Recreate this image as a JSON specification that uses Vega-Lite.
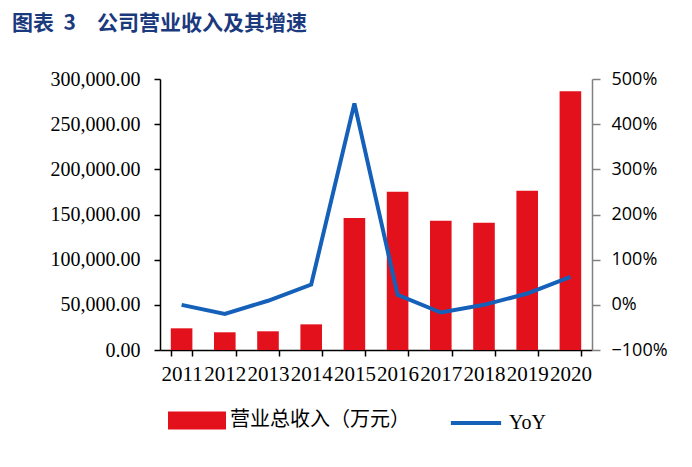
{
  "$schema": "https://vega.github.io/schema/vega-lite/v6.json",
  "width": 432,
  "height": 271,
  "autosize": {"type": "none"},
  "padding": {"left": 160, "top": 79, "right": 100, "bottom": 117},
  "background": "white",
  "title": {
    "text": "图表\u00a0\u00a03\u3000公司营业收入及其增速",
    "anchor": "start",
    "frame": "group",
    "dx": -148,
    "offset": 35,
    "font": "Noto Sans CJK SC",
    "fontSize": 21,
    "fontWeight": "bold",
    "color": "#1B3A7E"
  },
  "data": {
    "values": [
      {"year": "2011", "revenue": 24000, "yoy": 0.0},
      {"year": "2012", "revenue": 19600, "yoy": -0.2},
      {"year": "2013", "revenue": 20700, "yoy": 0.09},
      {"year": "2014", "revenue": 28400, "yoy": 0.45},
      {"year": "2015", "revenue": 146000, "yoy": 4.46},
      {"year": "2016", "revenue": 175200, "yoy": 0.22},
      {"year": "2017", "revenue": 143100, "yoy": -0.17},
      {"year": "2018", "revenue": 140900, "yoy": 0.0},
      {"year": "2019", "revenue": 176300, "yoy": 0.25},
      {"year": "2020", "revenue": 286400, "yoy": 0.62}
    ]
  },
  "encoding": {
    "x": {
      "field": "year",
      "type": "ordinal",
      "scale": {"paddingInner": 0.5, "paddingOuter": 0.25},
      "axis": {
        "title": null,
        "labelAngle": 0,
        "tickBand": "extent",
        "domainColor": "#000000",
        "domainWidth": 1.5,
        "tickColor": "#000000",
        "tickWidth": 1.5,
        "tickSize": 6,
        "labelFont": "Liberation Serif",
        "labelFontSize": 21,
        "labelColor": "#000000",
        "labelPadding": 7
      }
    }
  },
  "layer": [
    {
      "mark": {"type": "bar", "color": "#E3111B"},
      "encoding": {
        "y": {
          "field": "revenue",
          "type": "quantitative",
          "scale": {"domain": [0, 300000], "nice": false},
          "axis": {
            "title": null,
            "values": [0, 50000, 100000, 150000, 200000, 250000, 300000],
            "format": ",.2f",
            "grid": false,
            "domainColor": "#000000",
            "domainWidth": 1.5,
            "tickColor": "#000000",
            "tickWidth": 1.5,
            "tickSize": 6,
            "labelPadding": 14,
            "labelFont": "Liberation Serif",
            "labelFontSize": 20,
            "labelColor": "#000000"
          }
        },
        "color": {
          "datum": "营业总收入（万元）",
          "type": "nominal",
          "scale": {"domain": ["营业总收入（万元）", "YoY"], "range": ["#E3111B", "#1560B8"]},
          "legend": {
            "orient": "none",
            "legendX": 8,
            "legendY": 312,
            "direction": "horizontal",
            "columns": 2,
            "columnPadding": 32,
            "title": null,
            "symbolSize": 2916,
            "symbolStrokeWidth": 4,
            "symbolType": "M-1,-0.26H1V0.26H-1Z",
            "labelOffset": 4,
            "labelLimit": 400,
            "labelFont": "Noto Sans CJK SC",
            "labelFontSize": 20,
            "labelColor": "#000000",
            "encode": {
              "symbols": {
                "update": {
                  "shape": {"signal": "datum.value === 'YoY' ? 'M-0.93,0H0.93' : 'M-1,-0.26H1V0.26H-1Z'"},
                  "fill": {"signal": "datum.value === 'YoY' ? 'transparent' : '#E3111B'"},
                  "stroke": {"signal": "datum.value === 'YoY' ? '#1560B8' : 'transparent'"},
                  "opacity": {"value": 1},
                  "fillOpacity": {"value": 1}
                }
              },
              "labels": {
                "update": {
                  "font": {"signal": "datum.value === 'YoY' ? 'Liberation Serif' : 'Noto Sans CJK SC'"}
                }
              }
            }
          }
        }
      }
    },
    {
      "mark": {"type": "line", "strokeWidth": 4, "color": "#1560B8"},
      "encoding": {
        "y": {
          "field": "yoy",
          "type": "quantitative",
          "scale": {"domain": [-1, 5], "nice": false},
          "axis": {
            "orient": "right",
            "title": null,
            "values": [-1, 0, 1, 2, 3, 4, 5],
            "format": ".0%",
            "grid": false,
            "domainColor": "#808080",
            "domainWidth": 1.5,
            "tickColor": "#808080",
            "tickWidth": 1.5,
            "tickSize": 8,
            "labelPadding": 11,
            "labelFont": "Open Sans",
            "labelFontSize": 18,
            "labelColor": "#000000"
          }
        },
        "color": {"datum": "YoY", "type": "nominal"}
      }
    }
  ],
  "resolve": {"scale": {"y": "independent"}},
  "config": {
    "view": {"stroke": null}
  }
}
